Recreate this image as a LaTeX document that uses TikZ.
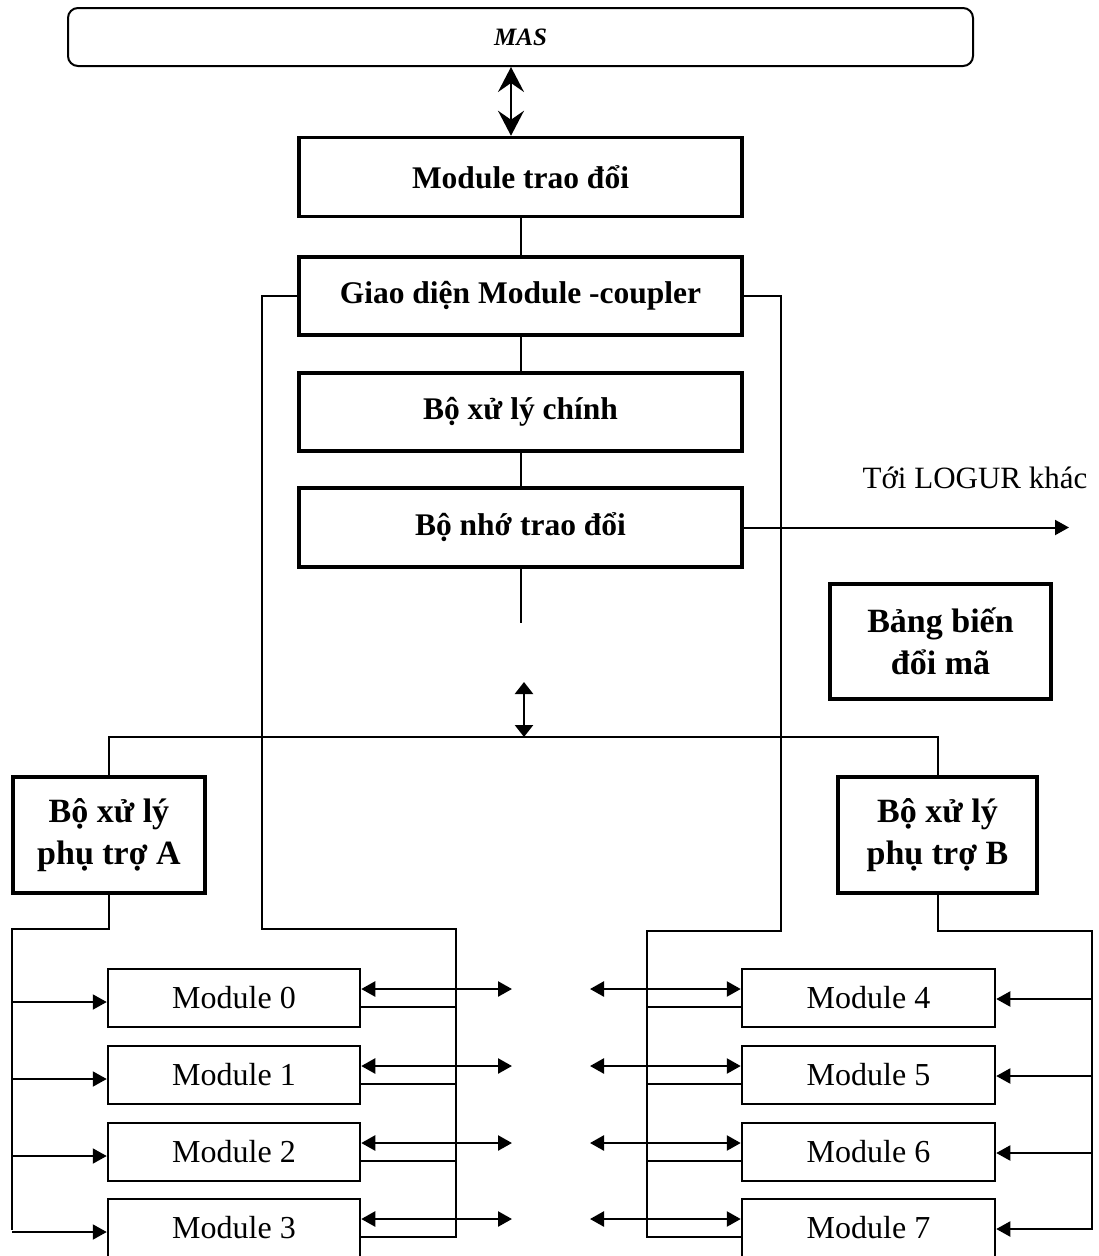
\documentclass[tikz,border=0pt]{standalone}
\usepackage{fontspec}
\setmainfont{Liberation Serif}
\usetikzlibrary{arrows.meta}
\tikzset{
  mainbox/.style={draw, line width=3.5pt, minimum width=443pt, minimum height=79pt,
    inner sep=0pt, font=\fontsize{31.5}{38}\selectfont\bfseries},
  sidebox/.style={draw, line width=3.5pt, align=center, inner sep=0pt,
    font=\fontsize{34}{42}\selectfont\bfseries},
  modbox/.style={draw, line width=2.5pt, minimum width=252pt, minimum height=58pt,
    inner sep=0pt, font=\fontsize{32}{38}\selectfont},
  conn/.style={line width=2pt},
  link/.style={line width=1.5pt},
  tip/.tip={Triangle[length=14pt,width=15pt]},
  arr/.style={line width=2pt, -tip},
  dbl/.style={line width=2.5pt, tip-tip},
  bigdbl/.style={line width=2pt, {Stealth[length=25pt,width=26pt,inset=9pt]}-{Stealth[length=25pt,width=26pt,inset=9pt]}},
  middbl/.style={line width=2.5pt, {Triangle[length=12pt,width=18pt]}-{Triangle[length=12pt,width=18pt]}},
}
\begin{document}
\begin{tikzpicture}[x=1pt,y=-1pt]
\useasboundingbox (0,0) rectangle (1098,1256);

% bus of the host system
\node[draw, rounded corners=10pt, line width=2pt, minimum width=905pt, minimum height=58pt,
      inner sep=0pt, font=\fontsize{25}{30}\selectfont\bfseries\itshape] (mas) at (520.5,37) {MAS};

% central column
\node[mainbox] (mtd) at (520.5,177) {Module trao đổi};
\node[mainbox, minimum height=78pt] (gd) at (520.5,296) {Giao diện Module -coupler};
\node[mainbox, minimum height=78pt] (cpu) at (520.5,412) {Bộ xử lý chính};
\node[mainbox] (mem) at (520.5,527.5) {Bộ nhớ trao đổi};

% side boxes
\node[sidebox, minimum width=221pt, minimum height=115pt] (tbl) at (940.5,641.5) {Bảng biến\\đổi mã};
\node[sidebox, minimum width=192pt, minimum height=116pt] (spa) at (109,835) {Bộ xử lý\\phụ trợ A};
\node[sidebox, minimum width=199pt, minimum height=116pt] (spb) at (937.5,835) {Bộ xử lý\\phụ trợ B};

% label of the outgoing link
\node[font=\fontsize{31}{37}\selectfont, inner sep=0pt] (lgt) at (975,478) {Tới LOGUR khác};

% modules
\foreach \i/\y in {0/998,1/1075,2/1152,3/1228}
  \node[modbox] (m\i) at (234,\y) {Module \i};
\foreach \i/\y in {4/998,5/1075,6/1152,7/1228}
  \node[modbox, minimum width=253pt] (m\i) at (868.5,\y) {Module \i};

% helper coordinates
\coordinate (ax) at (511,0);
\coordinate (gl) at (262,929);
\coordinate (gle) at (456,1238);
\coordinate (gr) at (781,931);
\coordinate (gre) at (647,1238);
\coordinate (stub) at (520.5,623);
\coordinate (lg) at (1069,527.5);
\coordinate (bt) at (524,682);
\coordinate (busmid) at (524,737);
\coordinate (la) at (12,929);
\coordinate (lab) at (12,1230);
\coordinate (rb) at (1092,931);
\coordinate (rbb) at (1092,1230);
\coordinate (lx) at (512,0);
\coordinate (rx) at (590,0);

% vertical chain
\draw[bigdbl] (mas.south -| ax) -- (mtd.north -| ax);
\draw[conn] (mtd.south) -- (gd.north);
\draw[conn] (gd.south) -- (cpu.north);
\draw[conn] (cpu.south) -- (mem.north);
\draw[conn] (mem.south) -- (stub);
\draw[arr] (mem.east) -- (lg);

% coupler lines down to the module groups
\draw[conn] (gd.west) -| (gl) -| (gle);
\draw[conn] (gd.east) -| (gr) -| (gre);

% internal bus to the auxiliary processors
\draw[middbl] (bt) -- (busmid);
\draw[conn] (spa.north) |- (busmid) -| (spb.north);

% control lines from the auxiliary processors
\draw[conn] (spa.south) |- (la) -- (lab);
\draw[conn] (spb.south) |- (rb) -- (rbb);

\foreach \i in {0,1,2,3} {
  \draw[arr] ([yshift=-4pt]la |- m\i.west) -- ([yshift=-4pt]m\i.west);
  \draw[dbl] ([yshift=9pt]m\i.east) -- ([yshift=9pt]m\i.east -| lx);
  \draw[link] ([yshift=-9pt]m\i.east) -- ([yshift=-9pt]m\i.east -| gle);
}
\foreach \i in {4,5,6,7} {
  \draw[arr] ([yshift=-1pt]rb |- m\i.east) -- ([yshift=-1pt]m\i.east);
  \draw[dbl] ([yshift=9pt]m\i.west -| rx) -- ([yshift=9pt]m\i.west);
  \draw[link] ([yshift=-9pt]m\i.west) -- ([yshift=-9pt]m\i.west -| gre);
}
\end{tikzpicture}
\end{document}
